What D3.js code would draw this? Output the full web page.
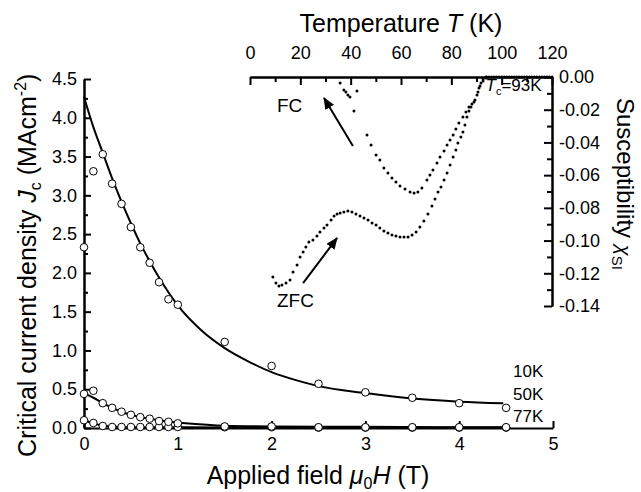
<!DOCTYPE html>
<html>
<head>
<meta charset="utf-8">
<script src="https://cdn.jsdelivr.net/npm/d3@7"></script>
<style>
  body { margin: 0; background: #fff; }
  svg { display: block; }
  text { font-family: "Liberation Sans", Arial, Helvetica, sans-serif; fill: #000; }
</style>
</head>
<body>
<svg id="chart" width="641" height="492"></svg>
<script>
// ---- main plot: Jc vs applied field ----
const fieldPts = [0, 0.1, 0.2, 0.3, 0.4, 0.5, 0.6, 0.7, 0.8, 0.9, 1.0, 1.5, 2.0, 2.5, 3.0, 3.5, 4.0, 4.5];
const jc10K = [2.33, 3.31, 3.53, 3.15, 2.89, 2.59, 2.33, 2.13, 1.88, 1.66, 1.59, 1.11, 0.80, 0.57, 0.46, 0.39, 0.32, 0.26];
const jc50K = [0.44, 0.48, 0.32, 0.26, 0.21, 0.17, 0.14, 0.12, 0.09, 0.08, 0.06, 0.02, 0.02, 0.01, 0.01, 0.01, 0.01, 0.01];
const jc77K = [0.10, 0.065, 0.026, 0.013, 0.013, 0.013, 0.013, 0.013, 0.013, 0.013, 0.013, 0.01, 0.01, 0.005, 0.005, 0.005, 0.005, 0.005];

// fitted curves
const fit10KH = [0, 0.1, 0.2, 0.3, 0.4, 0.5, 0.6, 0.7, 0.8, 0.9, 1.0, 1.25, 1.5, 1.75, 2.0, 2.25, 2.5, 3.0, 3.5, 4.0, 4.47];
const fit10KJc = [4.27, 3.88, 3.55, 3.22, 2.92, 2.64, 2.38, 2.15, 1.94, 1.75, 1.58, 1.26, 1.03, 0.86, 0.72, 0.62, 0.54, 0.45, 0.38, 0.34, 0.32];
const fit50KH = [0, 0.1, 0.2, 0.3, 0.4, 0.5, 0.6, 0.7, 0.8, 0.9, 1.0, 1.5, 2.0, 3.0, 4.0, 4.5];
const fit50KJc = [0.45, 0.39, 0.32, 0.26, 0.21, 0.17, 0.14, 0.12, 0.10, 0.08, 0.07, 0.03, 0.02, 0.015, 0.01, 0.01];
const fit77KH = [0, 0.1, 0.2, 0.3, 0.5, 1.0, 2.0, 3.0, 4.0, 4.5];
const fit77KJc = [0.10, 0.06, 0.03, 0.02, 0.01, 0.01, 0.005, 0.005, 0.005, 0.005];

const fieldTicks = [0, 1, 2, 3, 4, 5];
const jcTicks = [0, 0.5, 1.0, 1.5, 2.0, 2.5, 3.0, 3.5, 4.0, 4.5];
const jcMinor = [0.25, 0.75, 1.25, 1.75, 2.25, 2.75, 3.25, 3.75, 4.25];
const seriesLabels = ["10K", "50K", "77K"];

// ---- inset: susceptibility vs temperature ----
const fcNoiseT = [35.8, 37.3, 38.1, 38.9, 39.7, 41.3, 42.5];
const fcNoiseChi = [-0.0037, -0.0080, -0.0092, -0.0110, -0.0122, -0.0208, -0.0086];
const fcT = [46.5, 48.1, 50.1, 51.6, 53.2, 54.8, 56.4, 58.0, 59.6, 61.6, 63.6, 65.2, 66.7, 68.3, 70.3, 71.5, 72.7, 74.3, 75.5, 77.1,
  78.3, 79.5, 80.7, 81.8, 83.0, 84.6, 85.8, 87.0, 88.2, 89.4, 90.6, 91.4, 92.6, 93.8];
const fcChi = [-0.0355, -0.0416, -0.0477, -0.0507, -0.0556, -0.0587, -0.0618, -0.0642, -0.0666, -0.0685, -0.0703, -0.0709, -0.0703, -0.0679,
  -0.0630, -0.0599, -0.0569, -0.0526, -0.0489, -0.0452, -0.0416, -0.0385, -0.0355, -0.0318, -0.0281, -0.0245, -0.0214, -0.0183,
  -0.0165, -0.0141, -0.0092, -0.0055, -0.0024, -0.0006];
const zfcT = [9.1, 10.3, 11.5, 12.7, 14.3, 15.9, 17.1, 18.7, 19.9, 21.1, 22.2, 23.4, 25.0, 26.6, 27.8, 29.4, 30.6, 32.2, 33.4, 34.6,
  35.8, 37.3, 38.9, 40.5, 42.1, 43.7, 45.3, 46.9, 48.5, 50.1, 51.6, 53.2, 54.8, 56.4, 58.0, 59.6, 61.2, 62.8, 64.4, 66.0,
  67.5, 69.1, 70.7, 72.3, 73.5, 74.7, 75.9, 77.1, 78.3, 79.5, 80.7, 81.8, 82.6, 83.8, 84.6, 85.4, 86.2, 87.0, 87.8, 89.0,
  90.2, 91.0, 91.8, 92.6, 93.8];
const zfcChi = [-0.1223, -0.1259, -0.1278, -0.1272, -0.1259, -0.1241, -0.1192, -0.1149, -0.1101, -0.1070, -0.1039, -0.1009, -0.0997,
  -0.0972, -0.0948, -0.0923, -0.0905, -0.0874, -0.0850, -0.0838, -0.0832, -0.0825, -0.0819, -0.0825, -0.0838, -0.0850, -0.0862,
  -0.0874, -0.0893, -0.0905, -0.0923, -0.0942, -0.0954, -0.0966, -0.0972, -0.0978, -0.0978, -0.0978, -0.0966, -0.0948, -0.0917,
  -0.0880, -0.0838, -0.0789, -0.0746, -0.0703, -0.0673, -0.0630, -0.0587, -0.0538, -0.0489, -0.0446, -0.0404, -0.0367, -0.0336,
  -0.0293, -0.0245, -0.0208, -0.0183, -0.0153, -0.0110, -0.0067, -0.0037, -0.0012, 0];
const normalT = [94, 95, 96, 97, 98, 99, 100, 101, 102, 103, 104, 105, 106, 107, 108, 109, 110, 111, 112, 113, 114, 115, 116, 117, 118, 119, 120];
const normalChi = normalT.map(() => 0);

const tempTicks = [0, 20, 40, 60, 80, 100, 120];
const tempMinor = [10, 30, 50, 70, 90, 110];
const chiTicks = [0, -0.02, -0.04, -0.06, -0.08, -0.10, -0.12, -0.14];
const chiMinor = [-0.01, -0.03, -0.05, -0.07, -0.09, -0.11, -0.13];

const svg = d3.select("#chart");

var x = d3.scaleLinear().domain([0, 5]).range([84, 553]);
var y = d3.scaleLinear().domain([0, 4.5]).range([428, 79]);
var tx = d3.scaleLinear().domain([0, 120]).range([250, 552]);
var ty = d3.scaleLinear().domain([-0.14, 0]).range([306, 77]);

function styleAxis(g, size) {
  g.select(".domain").attr("stroke", "#000").attr("stroke-width", 2);
  g.selectAll(".tick line").attr("stroke", "#000").attr("stroke-width", 2);
  g.selectAll(".tick text").attr("font-size", size).attr("fill", "#000")
    .style("font-family", '"Liberation Sans", Arial, sans-serif');
}

// main axes
var gy = svg.append("g").attr("transform", "translate(84,0)")
  .call(d3.axisLeft(y).tickValues(jcTicks).tickSize(-7).tickSizeOuter(0).tickPadding(7)
    .tickFormat(d => d.toFixed(1)));
styleAxis(gy, 18);
var gyMinor = svg.append("g").attr("transform", "translate(84,0)")
  .call(d3.axisLeft(y).tickValues(jcMinor).tickSize(-4).tickSizeOuter(0).tickFormat(""));
styleAxis(gyMinor, 18);

var gx = svg.append("g").attr("transform", "translate(0,428)")
  .call(d3.axisBottom(x).tickValues(fieldTicks).tickSize(-7).tickSizeOuter(0).tickPadding(9)
    .tickFormat(d3.format("d")));
styleAxis(gx, 18);

// fit lines
var fitLine = d3.line().x(d => x(d[0])).y(d => y(d[1])).curve(d3.curveMonotoneX);
[[fit10KH, fit10KJc], [fit50KH, fit50KJc], [fit77KH, fit77KJc]].forEach(function (f) {
  svg.append("path")
    .datum(f[0].map((h, i) => [h, f[1][i]]))
    .attr("d", fitLine)
    .attr("fill", "none")
    .attr("stroke", "#000")
    .attr("stroke-width", 2);
});

// open circles
[jc77K, jc50K, jc10K].forEach(function (s) {
  svg.append("g").selectAll("circle")
    .data(fieldPts.map((h, i) => [h, s[i]]))
    .enter().append("circle")
    .attr("cx", d => x(d[0]))
    .attr("cy", d => y(d[1]))
    .attr("r", 3.8)
    .attr("fill", "#fff")
    .attr("stroke", "#000")
    .attr("stroke-width", 1);
});

// series labels stacked at right
svg.append("g").selectAll("text")
  .data(seriesLabels)
  .enter().append("text")
  .attr("x", 513)
  .attr("y", (d, i) => 377 + i * 22.5)
  .attr("font-size", 17)
  .text(d => d);

// axis titles
var xt = svg.append("text").attr("x", 318).attr("y", 484).attr("text-anchor", "middle").attr("font-size", 25);
xt.append("tspan").text("Applied field ");
xt.append("tspan").attr("font-style", "italic").text("\u03bc");
xt.append("tspan").attr("font-size", 16).attr("dy", 5).text("0");
xt.append("tspan").attr("font-style", "italic").attr("dy", -5).text("H");
xt.append("tspan").text(" (T)");

var yt = svg.append("text").attr("transform", "translate(36,457) rotate(-90)").attr("font-size", 25);
yt.append("tspan").text("Critical current density ");
yt.append("tspan").attr("font-style", "italic").text("J");
yt.append("tspan").attr("font-size", 16).attr("dy", 5).text("c");
yt.append("tspan").attr("dy", -5).text(" (MAcm");
yt.append("tspan").attr("font-size", 16).attr("dy", -10).text("-2");
yt.append("tspan").attr("dy", 10).text(")");

// ---- inset ----
var gt = svg.append("g").attr("transform", "translate(0,77)")
  .call(d3.axisTop(tx).tickValues(tempTicks).tickSize(-8).tickSizeOuter(0).tickPadding(18));
styleAxis(gt, 18);
var gtMinor = svg.append("g").attr("transform", "translate(0,77)")
  .call(d3.axisTop(tx).tickValues(tempMinor).tickSize(-5).tickSizeOuter(0).tickFormat(""));
styleAxis(gtMinor, 18);

var gc = svg.append("g").attr("transform", "translate(552,0)")
  .call(d3.axisRight(ty).tickValues(chiTicks).tickSize(-8).tickSizeOuter(0).tickPadding(7)
    .tickFormat(d => d.toFixed(2)));
styleAxis(gc, 18);
var gcMinor = svg.append("g").attr("transform", "translate(552,0)")
  .call(d3.axisRight(ty).tickValues(chiMinor).tickSize(-5).tickSizeOuter(0).tickFormat(""));
styleAxis(gcMinor, 18);

// dotted susceptibility data
[[fcNoiseT, fcNoiseChi], [fcT, fcChi], [zfcT, zfcChi], [normalT, normalChi]].forEach(function (s) {
  svg.append("g").selectAll("circle")
    .data(s[0].map((t, i) => [t, s[1][i]]))
    .enter().append("circle")
    .attr("cx", d => tx(d[0]))
    .attr("cy", d => ty(d[1]))
    .attr("r", 1.5)
    .attr("fill", "#000");
});

// inset titles
var tt = svg.append("text").attr("x", 401).attr("y", 32).attr("text-anchor", "middle").attr("font-size", 25);
tt.append("tspan").text("Temperature ");
tt.append("tspan").attr("font-style", "italic").text("T");
tt.append("tspan").text(" (K)");

var ct = svg.append("text").attr("transform", "translate(617,98) rotate(90)").attr("font-size", 24);
ct.append("tspan").text("Susceptibility ");
ct.append("tspan").attr("font-style", "italic").attr("font-size", 20).text("\u03c7");
ct.append("tspan").attr("font-size", 15).attr("dy", 5).text("SI");

// annotations
const fcArrow = [[40.9, -0.0422], [29.4, -0.0128]];
const zfcArrow = [[21.1, -0.126], [34.6, -0.0984]];

svg.append("defs").append("marker")
  .attr("id", "head")
  .attr("markerUnits", "userSpaceOnUse")
  .attr("markerWidth", 12).attr("markerHeight", 10)
  .attr("refX", 11).attr("refY", 5)
  .attr("orient", "auto")
  .append("path").attr("d", "M0,0 L12,5 L0,10 Z").attr("fill", "#000");

[fcArrow, zfcArrow].forEach(function (a) {
  svg.append("line")
    .attr("x1", tx(a[0][0])).attr("y1", ty(a[0][1]))
    .attr("x2", tx(a[1][0])).attr("y2", ty(a[1][1]))
    .attr("stroke", "#000").attr("stroke-width", 2)
    .attr("marker-end", "url(#head)");
});

svg.append("text").attr("x", tx(10.7)).attr("y", ty(-0.0214)).attr("font-size", 19).text("FC");
svg.append("text").attr("x", tx(10.7)).attr("y", ty(-0.1406)).attr("font-size", 19).text("ZFC");

var tc = svg.append("text").attr("x", tx(93.6)).attr("y", 91).attr("font-size", 17);
tc.append("tspan").attr("font-style", "italic").text("T");
tc.append("tspan").attr("font-size", 11).attr("dy", 4).text("c");
tc.append("tspan").attr("dy", -4).text("=93K");
</script>
</body>
</html>
